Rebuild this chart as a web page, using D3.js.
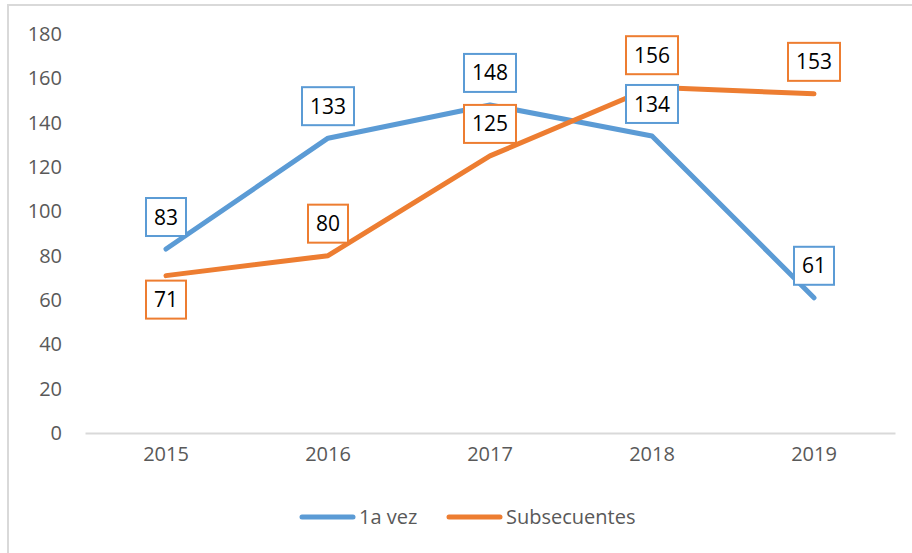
<!DOCTYPE html>
<html>
<head>
<meta charset="utf-8">
<script src="https://cdn.jsdelivr.net/npm/d3@7"></script>
<style>
  html, body { margin: 0; padding: 0; background: #fff; }
  svg { display: block; font-family: "Open Sans", "Liberation Sans", sans-serif; }
</style>
</head>
<body>
<div id="chart"></div>
<script>
// Categories and series
const years = ["2015", "2016", "2017", "2018", "2019"];
const primeraVez = [83, 133, 148, 134, 61];
const subsecuentes = [71, 80, 125, 156, 153];
const yTicks = [0, 20, 40, 60, 80, 100, 120, 140, 160, 180];

const series = [
    { name: "1a vez", values: primeraVez, color: "#5B9BD5", below: [] },
    { name: "Subsecuentes", values: subsecuentes, color: "#ED7D31", below: [0] }
];

const width = 912, height = 553;
const margin = { top: 34, right: 17, bottom: 120, left: 85 };
const innerW = width - margin.left - margin.right;
const innerH = height - margin.top - margin.bottom;

const svg = d3.select("#chart").append("svg")
    .attr("width", width)
    .attr("height", height);

// Outer chart frame (only left and top edges are visible in the crop)
svg.append("rect")
    .attr("x", 8).attr("y", 5)
    .attr("width", 1000).attr("height", 1000)
    .attr("fill", "none")
    .attr("stroke", "#d9d9d9")
    .attr("stroke-width", 2);

const g = svg.append("g").attr("transform", `translate(${margin.left},${margin.top})`);

const x = d3.scaleBand().domain(years).range([0, innerW]);
const y = d3.scaleLinear().domain([0, 180]).range([innerH, 0]);
const cx = d => x(d) + x.bandwidth() / 2;

// Y axis labels (no axis line, no ticks)
const yAxis = g.append("g").call(d3.axisLeft(y).tickValues(yTicks).tickSize(0).tickPadding(23));
yAxis.select(".domain").remove();
yAxis.selectAll("text")
    .style("font-family", "'Open Sans', sans-serif")
    .style("font-size", "20px")
    .attr("fill", "#595959");

// X axis baseline and labels
const xAxis = g.append("g").attr("transform", `translate(0,${innerH})`)
    .call(d3.axisBottom(x).tickSize(0).tickPadding(14));
xAxis.select(".domain").attr("stroke", "#d9d9d9").attr("stroke-width", 2);
xAxis.selectAll("text")
    .style("font-family", "'Open Sans', sans-serif")
    .style("font-size", "20px")
    .attr("fill", "#595959");

// Lines
const line = d3.line().x((d, i) => cx(years[i])).y(d => y(d));
series.forEach(s => {
    g.append("path")
        .datum(s.values)
        .attr("fill", "none")
        .attr("stroke", s.color)
        .attr("stroke-width", 5)
        .attr("stroke-linecap", "round")
        .attr("stroke-linejoin", "round")
        .attr("d", line);
});

// Boxed data labels
series.forEach(s => {
    s.values.forEach((v, i) => {
        const isBelow = s.below.includes(i);
        const lx = cx(years[i]);
        const ly = y(v) + (isBelow ? 24 : -32);
        const w = String(v).length === 3 ? 52 : 40;
        const lab = g.append("g").attr("transform", `translate(${lx},${ly})`);
        lab.append("rect")
            .attr("x", -w / 2).attr("y", -19)
            .attr("width", w).attr("height", 38)
            .attr("fill", "#fff")
            .attr("stroke", s.color)
            .attr("stroke-width", 2);
        lab.append("text")
            .attr("text-anchor", "middle")
            .attr("dy", "0.36em")
            .style("font-size", "21px")
            .attr("fill", "#000")
            .text(v);
    });
});

// Legend
const legend = svg.append("g").attr("transform", "translate(300,517)");
const legendItems = [
    { x: 0, s: series[0] },
    { x: 147, s: series[1] }
];
legendItems.forEach(item => {
    const lg = legend.append("g").attr("transform", `translate(${item.x},0)`);
    lg.append("line")
        .attr("x1", 2).attr("x2", 53)
        .attr("y1", 0).attr("y2", 0)
        .attr("stroke", item.s.color)
        .attr("stroke-width", 5)
        .attr("stroke-linecap", "round");
    lg.append("text")
        .attr("x", 59).attr("dy", "0.35em")
        .style("font-size", "20px")
        .attr("fill", "#595959")
        .text(item.s.name);
});
</script>
</body>
</html>
